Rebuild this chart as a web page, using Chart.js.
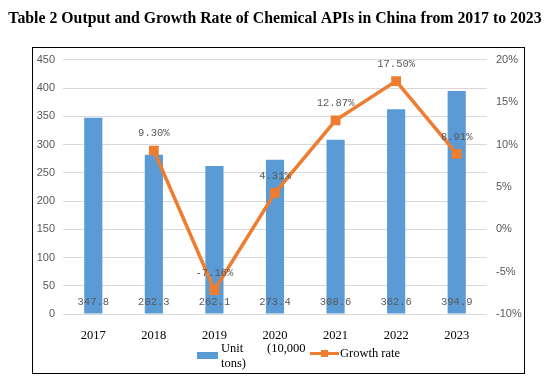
<!DOCTYPE html>
<html>
<head>
<meta charset="utf-8">
<script src="https://cdn.jsdelivr.net/npm/chart.js@4"></script>
<style>
  html, body { margin: 0; padding: 0; background: #fff; }
  #wrap { position: relative; width: 550px; height: 376px; }
  #legend span, #legend i { position: absolute; }
  #legend span { font: 12.5px "Liberation Serif", "Times New Roman", serif; color: #000; line-height: 14px; }
</style>
</head>
<body>
<div id="wrap">
  <canvas id="c" width="550" height="376"></canvas>
  <div id="legend">
    <i style="left:197px;top:352px;width:21px;height:7px;background:#5B9BD5"></i>
    <span style="left:221px;top:341px">Unit</span>
    <span style="left:221px;top:356px">tons)</span>
    <span style="left:267px;top:341px">(10,000</span>
    <i style="left:310px;top:352px;width:29px;height:3px;background:#ED7D31"></i>
    <i style="left:321px;top:350px;width:7px;height:7px;background:#ED7D31"></i>
    <span style="left:340px;top:346px">Growth rate</span>
  </div>
</div>
<script>
const years = ['2017', '2018', '2019', '2020', '2021', '2022', '2023'];
const output = [347.8, 282.3, 262.1, 273.4, 308.6, 362.6, 394.9];
const growth = [null, 9.30, -7.16, 4.31, 12.87, 17.50, 8.91];
const titleText = 'Table 2 Output and Growth Rate of Chemical APIs in China from 2017 to 2023';

const blue = '#5B9BD5';
const orange = '#ED7D31';
const labelFont = '10.5px "Liberation Mono", "DejaVu Sans Mono", monospace';

// frame round the plot, like the Excel chart border
const framePlugin = {
  id: 'frame',
  afterDraw(chart) {
    const ctx = chart.ctx;
    ctx.save();
    ctx.strokeStyle = '#000';
    ctx.lineWidth = 1;
    ctx.strokeRect(32.5, 47.5, 492, 326);
    ctx.restore();
  }
};

// value labels: bars near the base, growth rates above the points
const valueLabels = {
  id: 'valueLabels',
  afterDatasetsDraw(chart) {
    const ctx = chart.ctx;
    ctx.save();
    ctx.font = labelFont;
    ctx.fillStyle = '#595959';
    ctx.textAlign = 'center';
    ctx.textBaseline = 'middle';
    const base = chart.scales.y.getPixelForValue(0);
    chart.getDatasetMeta(0).data.forEach((bar, i) => {
      ctx.fillText(output[i].toFixed(1), bar.x, base - 12);
    });
    chart.getDatasetMeta(1).data.forEach((pt, i) => {
      if (growth[i] === null) return;
      ctx.fillText(growth[i].toFixed(2) + '%', pt.x, pt.y - 17);
    });
    ctx.restore();
  }
};

new Chart(document.getElementById('c'), {
  data: {
    labels: years,
    datasets: [
      {
        type: 'bar',
        label: 'Unit (10,000 tons)',
        data: output,
        backgroundColor: blue,
        yAxisID: 'y',
        order: 2,
        categoryPercentage: 1,
        barPercentage: 0.3
      },
      {
        type: 'line',
        label: 'Growth rate',
        data: growth,
        borderColor: orange,
        backgroundColor: orange,
        borderWidth: 3.5,
        pointStyle: 'rect',
        pointRadius: 4.5,
        pointBackgroundColor: orange,
        pointBorderColor: orange,
        tension: 0,
        yAxisID: 'y1',
        order: 1
      }
    ]
  },
  options: {
    responsive: false,
    animation: false,
    layout: { padding: 0 },
    plugins: {
      legend: { display: false },
      tooltip: { enabled: false },
      title: {
        display: true,
        text: titleText,
        color: '#000',
        font: { family: '"Liberation Serif", "Times New Roman", serif', size: 15.8, weight: 'bold' },
        padding: { top: 9, bottom: 32 }
      }
    },
    scales: {
      x: {
        grid: { display: false },
        border: { display: false },
        ticks: {
          color: '#000',
          padding: 6,
          font: { family: '"Liberation Serif", "Times New Roman", serif', size: 12.5 }
        },
        afterFit(scale) { scale.height = 62; }
      },
      y: {
        position: 'left',
        min: 0,
        max: 450,
        ticks: {
          stepSize: 50,
          color: '#595959',
          padding: 8,
          font: { family: '"Liberation Sans", Arial, sans-serif', size: 11 }
        },
        grid: { color: '#D9D9D9', drawTicks: false },
        border: { display: false },
        afterFit(scale) { scale.width = 63; }
      },
      y1: {
        position: 'right',
        min: -10,
        max: 20,
        ticks: {
          stepSize: 5,
          color: '#595959',
          padding: 9,
          font: { family: '"Liberation Sans", Arial, sans-serif', size: 11 },
          callback: v => v + '%'
        },
        grid: { display: false, drawTicks: false },
        border: { display: false },
        afterFit(scale) { scale.width = 63; }
      }
    }
  },
  plugins: [framePlugin, valueLabels]
});
</script>
</body>
</html>
